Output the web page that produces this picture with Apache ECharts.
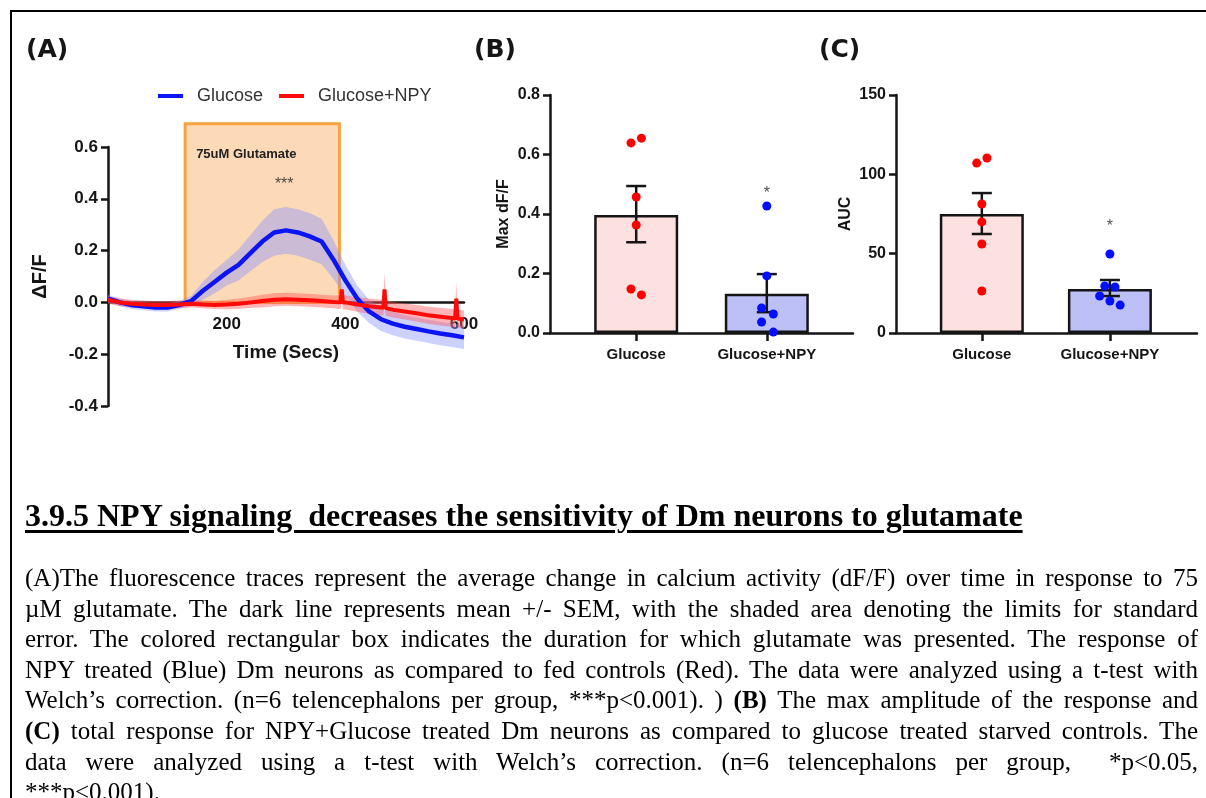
<!DOCTYPE html>
<html>
<head>
<meta charset="utf-8">
<script src="https://cdn.jsdelivr.net/npm/echarts@6/dist/echarts.min.js"></script>
<style>
  html, body { margin: 0; padding: 0; background: #fff; }
  body { width: 1206px; height: 798px; overflow: hidden; position: relative; }
  #chart { position: absolute; left: 0; top: 0; width: 1206px; height: 480px; }
  .frame {
    position: absolute; left: 10px; top: 10px; width: 1300px; height: 900px;
    border-top: 2px solid #000; border-left: 2px solid #000; pointer-events: none;
  }
  .heading {
    position: absolute; left: 25px; top: 496px; white-space: nowrap; color: #000;
    font: bold 32px/38px "Liberation Serif", "Times New Roman", serif;
    text-decoration: underline; text-decoration-thickness: 3px; text-underline-offset: 4px;
  }
  .caption {
    position: absolute; left: 25px; top: 563px; width: 1173px; color: #000;
    font: 25px/30.6px "Liberation Serif", "Times New Roman", serif;
  }
  .caption div { text-align: justify; text-align-last: justify; }
  .caption div.last { text-align-last: left; }
</style>
</head>
<body>
<div id="chart"></div>
<div class="frame"></div>
<div class="heading">3.9.5 NPY signaling&nbsp; decreases the sensitivity of Dm neurons to glutamate</div>
<div class="caption">
  <div>(A)The fluorescence traces represent the average change in calcium activity (dF/F) over time in response to 75</div>
  <div>µM glutamate. The dark line represents mean +/- SEM, with the shaded area denoting the limits for standard</div>
  <div>error. The colored rectangular box indicates the duration for which glutamate was presented. The response of</div>
  <div>NPY treated (Blue) Dm neurons as compared to fed controls (Red). The data were analyzed using a t-test with</div>
  <div>Welch’s correction. (n=6 telencephalons per group, ***p&lt;0.001). ) <b>(B)</b> The max amplitude of the response and</div>
  <div><b>(C)</b> total response for NPY+Glucose treated Dm neurons as compared to glucose treated starved controls. The</div>
  <div>data were analyzed using a t-test with Welch’s correction. (n=6 telencephalons per group,&nbsp; *p&lt;0.05,</div>
  <div class="last">***p&lt;0.001).</div>
</div>
<script>
// panel A: traces (time in s, dF/F)
const timeSecs = [0, 20, 40, 60, 80, 100, 120, 140, 160, 180, 200, 220, 240, 260, 280, 300,
  320, 340, 360, 380, 400, 420, 440, 460, 480, 500, 520, 540, 560, 580, 600]
const glucoseMean = [0.015, 0.0, -0.01, -0.015, -0.02, -0.02, -0.01, 0.005, 0.045, 0.08, 0.115,
  0.145, 0.19, 0.235, 0.27, 0.278, 0.27, 0.255, 0.235, 0.165, 0.085, 0.015, -0.035, -0.065,
  -0.082, -0.094, -0.103, -0.112, -0.12, -0.127, -0.135]
const glucoseSem = [0.015, 0.015, 0.015, 0.015, 0.015, 0.015, 0.015, 0.02, 0.035, 0.045, 0.05,
  0.06, 0.07, 0.08, 0.09, 0.09, 0.09, 0.09, 0.088, 0.075, 0.06, 0.05, 0.045, 0.045, 0.045,
  0.045, 0.045, 0.045, 0.045, 0.045, 0.045]

const npyTime = [0, 20, 40, 60, 80, 100, 120, 140, 160, 180, 200, 220, 240, 260, 280, 300, 320,
  340, 360, 380, 392, 394, 396, 400, 420, 440, 460, 464, 466, 468, 480, 500, 520, 540, 560, 580,
  585, 587, 589, 600]
const npyMean = [0.01, 0.0, -0.005, -0.008, -0.01, -0.01, -0.008, -0.005, -0.008, -0.01, -0.008,
  -0.005, 0.0, 0.005, 0.01, 0.012, 0.01, 0.008, 0.005, 0.002, 0.001, 0.05, 0.0, 0.0, -0.008,
  -0.015, -0.02, -0.021, 0.05, -0.022, -0.028, -0.035, -0.042, -0.05, -0.055, -0.06, -0.062,
  0.015, -0.062, -0.066]
const npySem = [0.015, 0.015, 0.015, 0.015, 0.015, 0.015, 0.015, 0.015, 0.015, 0.015, 0.018,
  0.02, 0.022, 0.025, 0.025, 0.025, 0.025, 0.025, 0.025, 0.025, 0.027, 0.035, 0.027, 0.027, 0.028,
  0.03, 0.03, 0.03, 0.065, 0.03, 0.03, 0.031, 0.032, 0.033, 0.034, 0.035, 0.035, 0.065, 0.035, 0.035]

const glutamateWindow = [130, 390, 0, 0.69] // start, end, bottom, top
const starA = [297, 0.456]

// panels B and C
const groups = ['Glucose', 'Glucose+NPY']

const maxMean = [0.397, 0.132]
const maxLow = [0.305, 0.07]
const maxHigh = [0.494, 0.198]
const maxGlucosePts = [[-0.04, 0.639], [0.04, 0.655], [0, 0.457], [0, 0.363], [-0.04, 0.148], [0.04, 0.128]]
const maxNpyPts = [[1, 0.427], [1, 0.192], [0.96, 0.084], [1.05, 0.064], [0.96, 0.037], [1.05, 0.003]]
const maxStar = [1, 0.47]

const aucMean = [75, 27.7]
const aucLow = [62.4, 23.3]
const aucHigh = [88.2, 33.4]
const aucGlucosePts = [[-0.04, 107.1], [0.04, 110.3], [0, 81.3], [0, 70], [0, 56.1], [0, 26.5]]
const aucNpyPts = [[1, 49.8], [0.96, 29.6], [1.04, 29], [0.92, 23.3], [1, 20.2], [1.08, 17.6]]
const aucStar = [1, 67]

const barFill = ['#fde1e1', '#bdbff7']
const ink = '#151515'
const font = 'Liberation Sans'

const gridA = { left: 108, top: 147, width: 356, height: 259 }
const yRangeA = [-0.4, 0.6]

const chart = echarts.init(document.getElementById('chart'))

function pairs(xs, ys) {
  return xs.map((x, i) => [x, ys[i]])
}

function tickText(digits) {
  return (value) => (Math.abs(value) < 1e-9 ? 0 : value).toFixed(digits)
}

// SEM band drawn as one polygon through the axis scales
function bandSeries(xs, mean, sem, fill) {
  return {
    type: 'custom',
    xAxisIndex: 0,
    yAxisIndex: 0,
    silent: true,
    data: xs.map((x, i) => [x, mean[i] - sem[i], mean[i] + sem[i]]),
    encode: { x: 0, y: [1, 2] },
    renderItem: (params, api) => {
      if (params.dataIndex !== 0) {
        return null
      }
      const upper = xs.map((x, i) => api.coord([x, mean[i] + sem[i]]))
      const lower = xs.map((x, i) => api.coord([x, mean[i] - sem[i]])).reverse()
      return { type: 'polygon', shape: { points: upper.concat(lower) }, style: { fill } }
    },
  }
}

function renderErrorBar(params, api) {
  const top = api.coord([api.value(0), api.value(2)])
  const bottom = api.coord([api.value(0), api.value(1)])
  const half = 10
  const style = { stroke: ink, lineWidth: 2.5 }
  return {
    type: 'group',
    children: [
      { type: 'line', shape: { x1: top[0], y1: top[1], x2: bottom[0], y2: bottom[1] }, style },
      { type: 'line', shape: { x1: top[0] - half, y1: top[1], x2: top[0] + half, y2: top[1] }, style },
      { type: 'line', shape: { x1: bottom[0] - half, y1: bottom[1], x2: bottom[0] + half, y2: bottom[1] }, style },
    ],
  }
}

function renderWindow(params, api) {
  const p0 = api.coord([api.value(0), api.value(3)])
  const p1 = api.coord([api.value(1), api.value(2)])
  return {
    type: 'group',
    children: [
      {
        type: 'rect',
        shape: { x: p0[0], y: p0[1], width: p1[0] - p0[0], height: p1[1] - p0[1] },
        style: { fill: '#fddab7', stroke: '#f6a23e', lineWidth: 3 },
      },
      {
        type: 'text',
        x: p0[0] + 11,
        y: p0[1] + 31,
        style: { text: '75uM Glutamate', fontSize: 13, fontWeight: 'bold', fontFamily: font, fill: '#222', verticalAlign: 'middle' },
      },
    ],
  }
}

function starSeries(axis, point, text) {
  return {
    type: 'scatter',
    xAxisIndex: axis,
    yAxisIndex: axis,
    data: [point],
    symbolSize: 1,
    silent: true,
    itemStyle: { color: 'rgba(0,0,0,0)' },
    label: { show: true, position: 'inside', formatter: text, fontSize: 16, color: '#222' },
    z: 6,
  }
}

function barPanel(axis, mean, low, high, glucosePts, npyPts, star) {
  return [
    {
      type: 'bar',
      xAxisIndex: axis,
      yAxisIndex: axis,
      barWidth: 84,
      data: groups.map((g, i) => ({ value: [i, mean[i]], itemStyle: { color: barFill[i] } })),
      itemStyle: { borderColor: ink, borderWidth: 2.5 },
      z: 2,
    },
    {
      type: 'custom',
      xAxisIndex: axis,
      yAxisIndex: axis,
      data: groups.map((g, i) => [i, low[i], high[i]]),
      renderItem: renderErrorBar,
      z: 3,
    },
    {
      type: 'scatter',
      xAxisIndex: axis,
      yAxisIndex: axis,
      data: glucosePts,
      symbolSize: 9,
      itemStyle: { color: '#ff0000', opacity: 1 },
      z: 4,
    },
    {
      type: 'scatter',
      xAxisIndex: axis,
      yAxisIndex: axis,
      data: npyPts,
      symbolSize: 9,
      itemStyle: { color: '#0010ff', opacity: 1 },
      z: 4,
    },
    starSeries(axis, star, '*'),
  ]
}

function groupAxis(grid, min, max) {
  return {
    type: 'value',
    gridIndex: grid,
    min,
    max,
    axisLine: { lineStyle: { color: ink, width: 2.5 } },
    axisTick: { customValues: [0, 1], length: 8, lineStyle: { color: ink, width: 2.5 } },
    axisLabel: {
      customValues: [0, 1],
      formatter: (value) => groups[Math.round(value)],
      fontSize: 15,
      fontWeight: 'bold',
      color: ink,
      margin: 14,
    },
    splitLine: { show: false },
  }
}

function valueAxis(grid, min, max, interval, digits, name, nameGap, nameSize, labelSize) {
  return {
    type: 'value',
    gridIndex: grid,
    min,
    max,
    interval,
    name,
    nameLocation: 'middle',
    nameGap,
    nameTextStyle: { fontSize: nameSize, fontWeight: 'bold', color: ink, fontFamily: font },
    axisLine: { show: true, onZero: false, lineStyle: { color: ink, width: 2.5 } },
    axisTick: { show: true, length: 7, lineStyle: { color: ink, width: 2.5 } },
    axisLabel: { formatter: tickText(digits), fontSize: labelSize, fontWeight: 'bold', color: ink, margin: 10 },
    splitLine: { show: false },
  }
}

const titleStyle = { fontFamily: 'DejaVu Sans', fontWeight: 'bold', fontSize: 25, color: ink }

chart.setOption({
  animation: false,
  backgroundColor: '#fff',
  textStyle: { fontFamily: font },
  title: [
    { text: '(A)', left: 26, top: 38, padding: 0, textStyle: titleStyle },
    { text: '(B)', left: 474, top: 38, padding: 0, textStyle: titleStyle },
    { text: '(C)', left: 819, top: 38, padding: 0, textStyle: titleStyle },
  ],
  legend: {
    left: 153,
    top: 82,
    data: ['Glucose', 'Glucose+NPY'],
    icon: 'rect',
    itemWidth: 25,
    itemHeight: 4,
    itemGap: 16,
    textStyle: { fontSize: 18, color: '#333', padding: [0, 0, 0, 9] },
  },
  grid: [
    gridA,
    { left: 550, top: 95, width: 303, height: 238 },
    { left: 896, top: 95, width: 301, height: 238 },
  ],
  xAxis: [
    {
      type: 'value',
      gridIndex: 0,
      min: 0,
      max: 600,
      interval: 200,
      // the time axis crosses at dF/F = 0, with its labels beside it
      offset: -gridA.height * (0 - yRangeA[0]) / (yRangeA[1] - yRangeA[0]),
      name: 'Time (Secs)',
      nameLocation: 'middle',
      nameGap: 41,
      nameTextStyle: { fontSize: 19, fontWeight: 'bold', color: ink },
      axisLine: { onZero: false, lineStyle: { color: ink, width: 2.5 } },
      axisTick: { show: false },
      axisLabel: { showMinLabel: false, fontSize: 17, fontWeight: 'bold', color: ink, margin: 13 },
      splitLine: { show: false },
    },
    groupAxis(1, -0.66, 1.66),
    groupAxis(2, -0.67, 1.68),
  ],
  yAxis: [
    valueAxis(0, yRangeA[0], yRangeA[1], 0.2, 1, 'ΔF/F', 58, 20, 17),
    valueAxis(1, 0, 0.8, 0.2, 1, 'Max dF/F', 38, 16, 16),
    valueAxis(2, 0, 150, 50, 0, 'AUC', 42, 16, 16),
  ],
  series: [
    {
      type: 'custom',
      xAxisIndex: 0,
      yAxisIndex: 0,
      data: [glutamateWindow],
      renderItem: renderWindow,
      clip: false,
      silent: true,
      z: 1,
    },
    bandSeries(timeSecs, glucoseMean, glucoseSem, 'rgba(135, 145, 255, 0.42)'),
    {
      name: 'Glucose',
      type: 'line',
      xAxisIndex: 0,
      yAxisIndex: 0,
      data: pairs(timeSecs, glucoseMean),
      showSymbol: false,
      color: '#0a14f5',
      lineStyle: { width: 4.5, color: '#0a14f5' },
    },
    bandSeries(npyTime, npyMean, npySem, 'rgba(255, 90, 90, 0.45)'),
    {
      name: 'Glucose+NPY',
      type: 'line',
      xAxisIndex: 0,
      yAxisIndex: 0,
      data: pairs(npyTime, npyMean),
      showSymbol: false,
      color: '#ff0a0a',
      lineStyle: { width: 4, color: '#ff0a0a' },
    },
    starSeries(0, starA, '***'),
    ...barPanel(1, maxMean, maxLow, maxHigh, maxGlucosePts, maxNpyPts, maxStar),
    ...barPanel(2, aucMean, aucLow, aucHigh, aucGlucosePts, aucNpyPts, aucStar),
  ],
})
</script>
</body>
</html>
